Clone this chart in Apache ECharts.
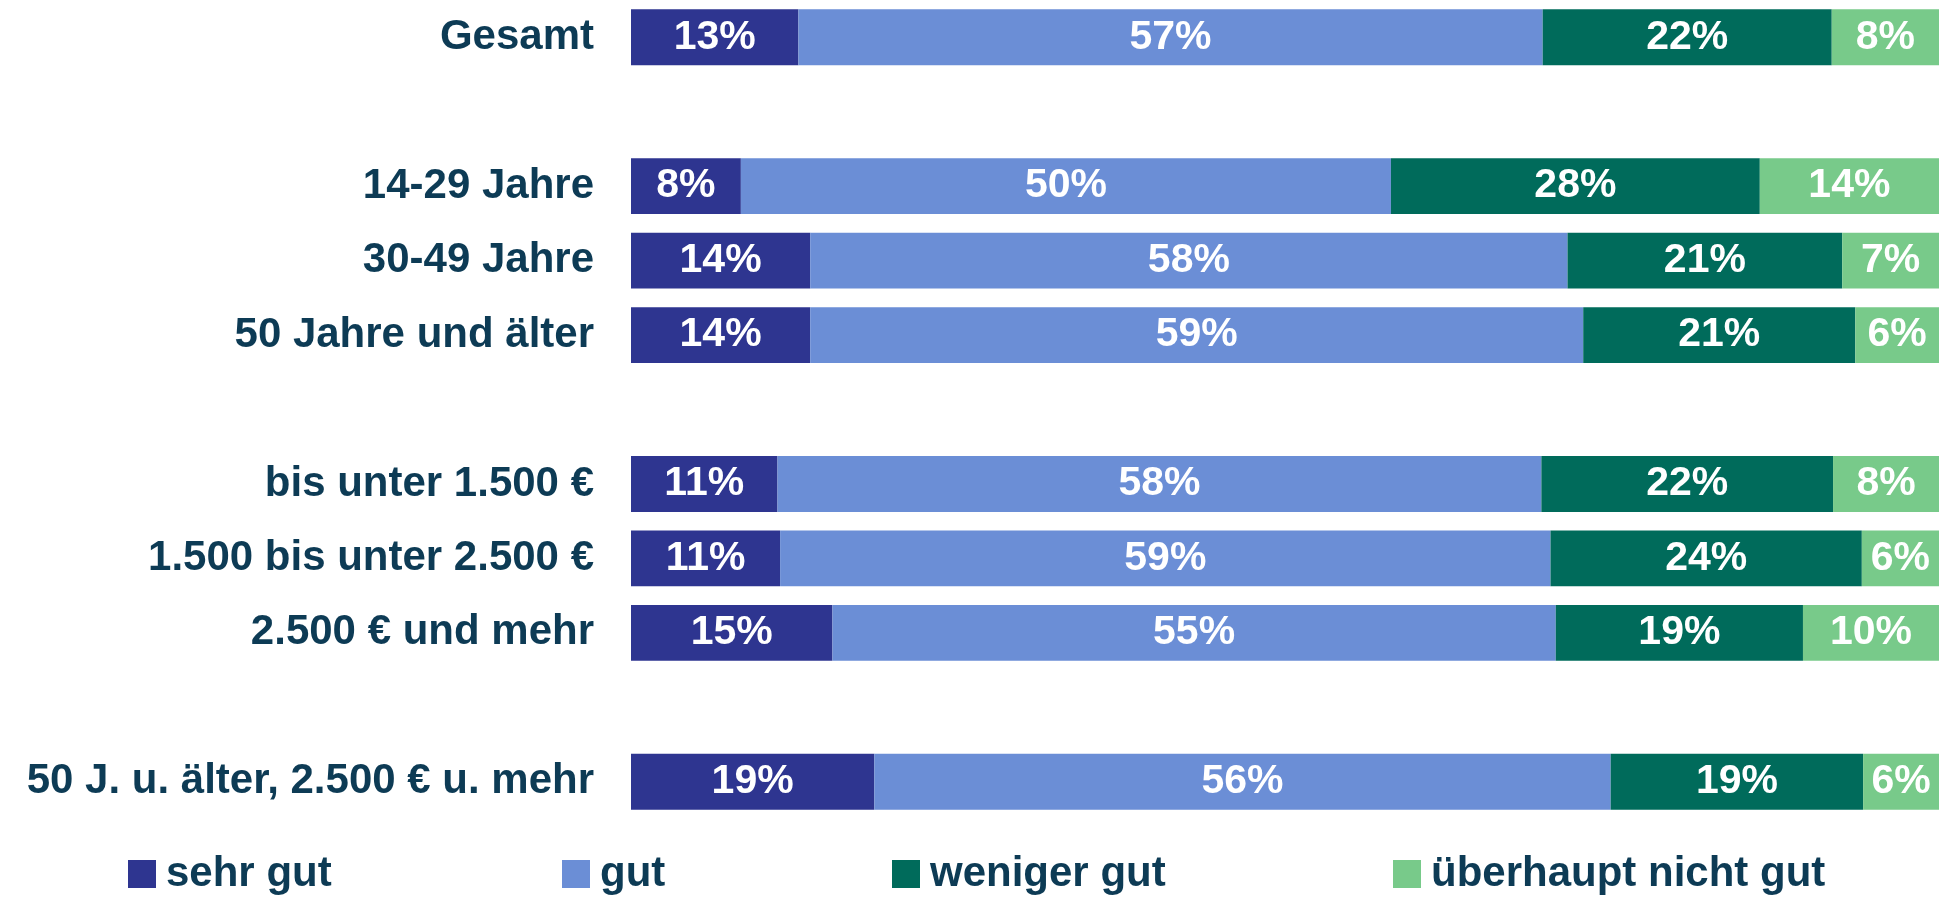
<!DOCTYPE html>
<html>
<head>
<meta charset="utf-8">
<script src="https://cdn.jsdelivr.net/npm/echarts@6/dist/echarts.min.js"></script>
<style>
html,body{margin:0;padding:0;background:#fff;}
#chart{width:1950px;height:898px;}
</style>
</head>
<body>
<div id="chart"></div>
<script>
const categories = ['Gesamt', ' ', '14-29 Jahre', '30-49 Jahre', '50 Jahre und älter', '  ', 'bis unter 1.500 €', '1.500 bis unter 2.500 €', '2.500 € und mehr', '   ', '50 J. u. älter, 2.500 € u. mehr'];
const seriesNames = ['sehr gut', 'gut', 'weniger gut', 'überhaupt nicht gut'];
const sehrGut = [12.8, null, 8.4, 13.7, 13.7, null, 11.2, 11.4, 15.4, null, 18.6];
const gut = [56.9, null, 49.7, 57.9, 59.1, null, 58.4, 58.9, 55.3, null, 56.3];
const wenigerGut = [22.1, null, 28.2, 21.0, 20.8, null, 22.3, 23.8, 18.9, null, 19.3];
const ueberhauptNicht = [8.2, null, 13.7, 7.4, 6.4, null, 8.1, 5.9, 10.4, null, 5.8];
const colors = ['#2E3590', '#6B8ED6', '#006B5B', '#78CA8A'];
const textColor = '#0D3B55';
const font = 'Liberation Sans, Arial, sans-serif';
const legendLefts = [128, 562, 892, 1393];

const chart = echarts.init(document.getElementById('chart'), null, {renderer: 'canvas'});
const allData = [sehrGut, gut, wenigerGut, ueberhauptNicht];
chart.setOption({
  animation: false,
  color: colors,
  grid: {left: 631, right: 11, top: 0, bottom: 79, containLabel: false},
  xAxis: {type: 'value', min: 0, max: 100, show: false},
  yAxis: {
    type: 'category', inverse: true, data: categories,
    axisLine: {show: false}, axisTick: {show: false}, splitLine: {show: false},
    axisLabel: {color: textColor, fontSize: 42, fontWeight: 'bold', fontFamily: font, margin: 37}
  },
  legend: seriesNames.map((n, i) => ({
    data: [n], left: legendLefts[i], top: 853, padding: 0, itemWidth: 28, itemHeight: 28,
    icon: 'rect',
    textStyle: {color: textColor, fontSize: 42, fontWeight: 'bold', fontFamily: font, lineHeight: 42, padding: [0, 0, 0, 5]}
  })),
  series: seriesNames.map((n, i) => ({
    name: n, type: 'bar', stack: 'total', data: allData[i], barCategoryGap: '25%',
    label: {
      show: true, position: 'inside', color: '#fff', fontSize: 41, fontWeight: 'bold', fontFamily: font,
      formatter: p => p.value == null ? '' : Math.round(p.value) + '%'
    }
  }))
});
</script>
</body>
</html>
